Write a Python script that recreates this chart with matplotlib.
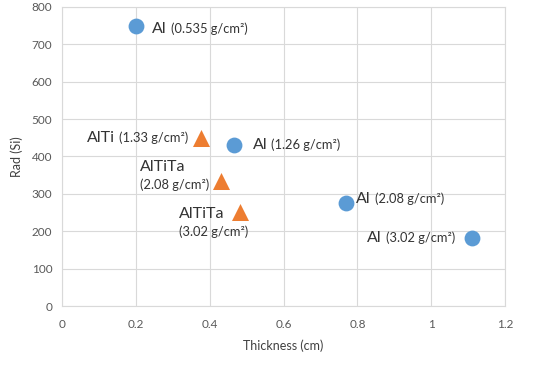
import matplotlib
matplotlib.use("Agg")
import matplotlib.pyplot as plt
from matplotlib.offsetbox import TextArea, HPacker, VPacker, AnnotationBbox

plt.rcParams['font.family'] = ['Lato', 'DejaVu Sans']

# Al series
al_x = [0.2, 0.465, 0.77, 1.11]
al_y = [750, 430, 275, 181]
al_dens = ["(0.535 g/cm²)", "(1.26 g/cm²)", "(2.08 g/cm²)", "(3.02 g/cm²)"]

# AlTi / AlTiTa series
ti_x = [0.377, 0.43, 0.483]
ti_y = [450, 335, 252]
ti_names = ["AlTi", "AlTiTa", "AlTiTa"]
ti_dens = ["(1.33 g/cm²)", "(2.08 g/cm²)", "(3.02 g/cm²)"]

x_ticks = [0, 0.2, 0.4, 0.6, 0.8, 1, 1.2]
x_ticklabels = ["0", "0.2", "0.4", "0.6", "0.8", "1", "1.2"]
y_ticks = [0, 100, 200, 300, 400, 500, 600, 700, 800]

blue = "#5B9BD5"
orange = "#ED7D31"
txt = "#333333"
big = 11.5
small = 9.3

fig = plt.figure(figsize=(5.41, 3.71), dpi=100)
ax = fig.add_axes([0.1146, 0.1752, 0.819, 0.806])

ax.scatter(al_x, al_y, s=130, color=blue, zorder=3, linewidths=0)
ax.scatter(ti_x, ti_y, s=150, marker="^", color=orange, zorder=3, linewidths=0)

ax.set_xlim(0, 1.2)
ax.set_ylim(0, 800)
ax.set_xticks(x_ticks)
ax.set_xticklabels(x_ticklabels)
ax.set_yticks(y_ticks)
ax.grid(True, color="#D9D9D9", linewidth=0.8)
ax.set_axisbelow(True)
for s in ax.spines.values():
    s.set_color("#D9D9D9")
    s.set_linewidth(0.8)
ax.tick_params(length=0, labelsize=8.5, labelcolor="#595959")
ax.tick_params(axis="x", pad=9)
ax.tick_params(axis="y", pad=7)
ax.set_xlabel("Thickness (cm)", fontsize=9, color="#404040", labelpad=7)
ax.set_ylabel("Rad (Si)", fontsize=9, color="#404040", labelpad=6)

px = 0.72  # points per pixel at 100 dpi


def inline_label(name, dens):
    return HPacker(children=[
        TextArea(name, textprops=dict(size=big, color=txt)),
        TextArea(dens, textprops=dict(size=small, color=txt))],
        align="baseline", pad=0, sep=3)


def stacked_label(name, dens):
    return VPacker(children=[
        TextArea(name, textprops=dict(size=big, color=txt)),
        TextArea(dens, textprops=dict(size=small, color=txt))],
        align="left", pad=0, sep=3)


# (alignment, dx, dy) in pixels for each label
al_place = [((0, 0.5), 16, -3), ((0, 0.5), 19, 0), ((0, 0.5), 10, 4), ((1, 0.5), -17, 0)]
ti_place = [((1, 0.5), -13, 0), ((1, 0.5), -12, 5), ((1, 0.5), 8, -11)]

for i in range(len(al_x)):
    al_box, dx, dy = al_place[i]
    ab = AnnotationBbox(inline_label("Al", al_dens[i]), (al_x[i], al_y[i]),
                        xybox=(dx * px, dy * px), boxcoords="offset points",
                        box_alignment=al_box, frameon=False, pad=0)
    ax.add_artist(ab)

for i in range(len(ti_x)):
    box_al, dx, dy = ti_place[i]
    if i == 0:
        box = inline_label(ti_names[i], ti_dens[i])
    else:
        box = stacked_label(ti_names[i], ti_dens[i])
    ab = AnnotationBbox(box, (ti_x[i], ti_y[i]),
                        xybox=(dx * px, dy * px), boxcoords="offset points",
                        box_alignment=box_al, frameon=False, pad=0)
    ax.add_artist(ab)

fig.savefig("out.png", dpi=100)
